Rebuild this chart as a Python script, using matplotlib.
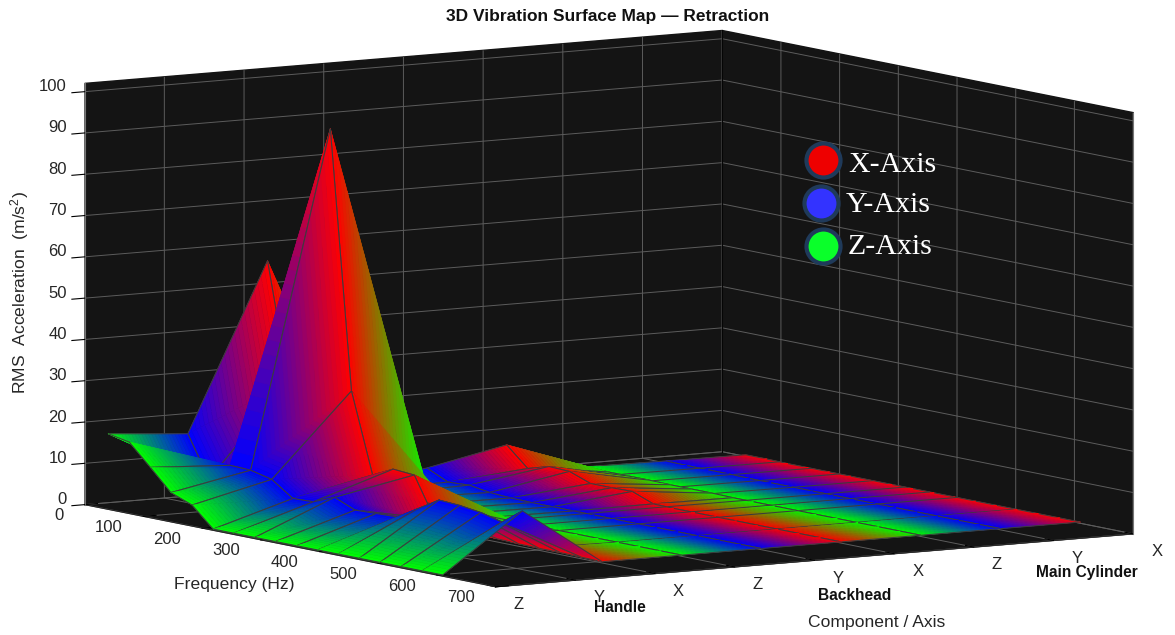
import numpy as np
import matplotlib
matplotlib.use("Agg")
import matplotlib.pyplot as plt
from matplotlib.colors import to_rgba
from matplotlib.lines import Line2D
from mpl_toolkits.mplot3d.art3d import Poly3DCollection, Line3DCollection

plt.rcParams['font.family'] = ['Liberation Sans', 'DejaVu Sans']
plt.rcParams['mathtext.default'] = 'regular'
plt.rcParams['grid.color'] = '#5c5c5c'
plt.rcParams['grid.linewidth'] = 0.7

# frequency rows of the surface (Hz)
freqs = [40, 76, 112, 147, 183, 219, 254, 290, 325, 361, 397, 432, 468, 503, 539, 575, 610]
# the mesh is coarser over the flat part of the surface
flat_rows = [98, 152, 200, 257, 312, 354, 400, 500]
comp_labels = ['Z', 'Y', 'X', 'Z', 'Y', 'X', 'Z', 'Y', 'X']
comp_colors = [(0, 1, 0), (0, 0, 1), (1, 0, 0)] * 3
freq_ticks = [0, 100, 200, 300, 400, 500, 600, 700]
rms_ticks = [0, 10, 20, 30, 40, 50, 60, 70, 80, 90, 100]

# RMS acceleration per component/axis, one list per column
handle_z = [18.3, 17.3, 12.2, 7.1, 5.1, 0.3, 0.3, 0.3, 0.3, 0.3, 0.3, 0.3, 0.3, 0.3, 0.3, 0.3, 0.3]
handle_y = [16.7, 6.7, 11.1, 10.9, 9.7, 6.1, 6.3, 8.4, 6.3, 6.5, 6.7, 9.7, 12.8, 12.5, 11.8, 10.5, 14.2]
handle_x = [57, 28.5, 12.2, 92, 29.5, 10.2, 12.6, 12.2, 2.5, 1.5, 1, 0.8, 0.6, 0.5, 0.5, 0.4, 0.3]
backhead_z = [1, 1, 1, 1, 0.5, 0.5, 0.4, 0.4, 0.3, 0.3, 0.3, 0.3, 0.3, 0.3, 0.3, 0.3, 0.3]
backhead_y = [3.6, 1.2, 1.5, 0.7, 0.4, 0.3, 0.3, 0.3, 0.3, 0.3, 0.3, 0.3, 0.3, 0.3, 0.3, 0.3, 0.3]
backhead_x = [7.6, 2.9, 4.4, 4.2, 2.3, 2.3, 2.4, 0.4, 0.3, 0.3, 0.3, 0.3, 0.3, 0.3, 0.3, 0.3, 0.3]
cylinder_z = [0.7, 0.5, 0.5, 0.5, 0.4, 0.4, 0.4, 0.3, 0.3, 0.3, 0.3, 0.3, 0.3, 0.3, 0.3, 0.3, 0.3]
cylinder_y = [0.5, 0.4, 0.4, 0.4, 0.3, 0.3, 0.3, 0.3, 0.3, 0.3, 0.3, 0.3, 0.3, 0.3, 0.3, 0.3, 0.3]
cylinder_x = [0.4, 0.4, 0.3, 0.3, 0.3, 0.3, 0.3, 0.3, 0.3, 0.3, 0.3, 0.3, 0.3, 0.3, 0.3, 0.3, 0.3]

rms = np.array([handle_z, handle_y, handle_x, backhead_z, backhead_y, backhead_x,
                cylinder_z, cylinder_y, cylinder_x])
comps = np.arange(1, len(comp_labels) + 1)
colors = np.array(comp_colors, dtype=float)

W, H = 1175, 635
Z_TOP = 102
fig = plt.figure(figsize=(W / 100, H / 100), dpi=100)
side = 1175
ax = fig.add_axes([5.5 / W, (310.5 - side / 2) / H, side / W, side / H], projection='3d',
                  proj_type='ortho', elev=7.4, azim=-122.8, computed_zorder=False)
ax.set_box_aspect((1, 1, 0.56), zoom=0.9532)
ax.patch.set_alpha(0)

ax.set_xlim(1, 9, view_margin=0)
ax.set_ylim(700, 0, view_margin=0)
ax.set_zlim(0, Z_TOP, view_margin=0)

for axis in (ax.xaxis, ax.yaxis, ax.zaxis):
    axis.set_pane_color(to_rgba('#141414'))
    axis.line.set_color('#262626')
    axis.line.set_linewidth(0.8)
    axis._axinfo['tick']['inward_factor'] = 0
    axis._axinfo['tick']['outward_factor'] = 0.25
    axis._axinfo['tick']['linewidth'] = {True: 0.8, False: 0.5}
    axis._axinfo['tick']['color'] = '#555555'
# z ticks point the other way round
ax.zaxis._axinfo['tick']['inward_factor'] = 0.25
ax.zaxis._axinfo['tick']['outward_factor'] = 0
ax.zaxis.line.set_color('#777777')

ax.set_xticks(comps)
ax.set_xticklabels(comp_labels, ha='left', va='baseline')
ax.set_yticks(freq_ticks)
ax.set_yticklabels([str(v) for v in freq_ticks], ha='right', va='baseline')
ax.set_zticks(rms_ticks)
ax.set_zticklabels([str(v) for v in rms_ticks], ha='right', va='baseline')
ax.tick_params(labelsize=12, labelcolor='#262626')
ax.tick_params(axis='x', pad=11.5)
ax.tick_params(axis='y', pad=6.5)
ax.tick_params(axis='z', pad=-0.5)

# the two box edges the panes do not outline
ax.plot([9, 9], [0, 0], [0, Z_TOP], color='#050505', lw=0.8, zorder=1)
ax.plot([9, 9], [700, 700], [0, Z_TOP], color='#777777', lw=0.8, zorder=1)


def coarse(i, f):
    return i >= 6 or (i >= 2 and f >= 300)


# painted far to near so the mesh lines get hidden properly
n_strips = 24
order = 10
line_col = '#3c3c3c'
line_w = 0.75
last = len(freqs) - 2
for j in range(len(freqs) - 1):
    f0, f1 = freqs[j], freqs[j + 1]
    for i in range(len(comps) - 2, -1, -1):
        c0 = comps[i]
        za, zb = rms[i][j], rms[i + 1][j]
        zd, zc = rms[i][j + 1], rms[i + 1][j + 1]
        far, near, cols = [], [], []
        for k in range(n_strips):
            t0, t1 = k / n_strips, (k + 1) / n_strips
            cols.append(colors[i] + (colors[i + 1] - colors[i]) * (t0 + t1) / 2)
            far.append([(c0 + t0, f0, za + (zb - za) * t0), (c0 + t1, f0, za + (zb - za) * t1),
                        (c0 + t1, f0 + (f1 - f0) * t1, za + (zc - za) * t1),
                        (c0 + t0, f0 + (f1 - f0) * t0, za + (zc - za) * t0)])
            near.append([(c0 + t0, f0 + (f1 - f0) * t0, za + (zc - za) * t0),
                         (c0 + t1, f0 + (f1 - f0) * t1, za + (zc - za) * t1),
                         (c0 + t1, f1, zd + (zc - zd) * t1), (c0 + t0, f1, zd + (zc - zd) * t0)])
        a, b = (c0, f0, za), (c0 + 1, f0, zb)
        c, d = (c0 + 1, f1, zc), (c0, f1, zd)
        far_edges = [[b, c]]
        near_edges = [[d, a]]
        if j == 0 or not coarse(i, f0):
            far_edges.append([a, b])
        if j == last or not coarse(i, f1):
            near_edges.append([c, d])
        for fr in flat_rows:
            if f0 < fr <= f1 and coarse(i, fr):
                near_edges.append([(c0, fr, np.interp(fr, [f0, f1], [za, zd])),
                                   (c0 + 1, fr, np.interp(fr, [f0, f1], [zb, zc]))])
        # far triangle and its edges, then the near one on top
        for polys, edges in ((far, far_edges), (near, near_edges)):
            ax.add_collection3d(Poly3DCollection(polys, facecolors=cols, edgecolors=cols,
                                                 linewidths=0.4, zorder=order), autolim=False)
            ax.add_collection3d(Line3DCollection(edges, colors=line_col, linewidths=line_w,
                                                 zorder=order + 1), autolim=False)
            order += 2

fig.text(608 / W, 1 - 17 / H, '3D Vibration Surface Map \u2014 Retraction', ha='center', va='center',
         fontsize=12.5, fontweight='bold', color='#111111')
fig.text(20 / W, 1 - 293 / H, 'RMS  Acceleration  (m/s$^{2}$)', rotation=90, ha='center', va='center',
         fontsize=12.6, color='#262626')
fig.text(234 / W, 1 - 584 / H, 'Frequency (Hz)', ha='center', va='center', fontsize=12.6, color='#262626')
fig.text(877 / W, 1 - 622 / H, 'Component / Axis', ha='center', va='center', fontsize=12.6, color='#262626')
for name, px, py in [('Handle', 620, 608), ('Backhead', 855, 596), ('Main Cylinder', 1087, 573)]:
    fig.text(px / W, 1 - py / H, name, ha='center', va='center', fontsize=11.2,
             fontweight='bold', color='#111111')

for name, col, cx, cy, tx, ty in [('X-Axis', '#ee0000', 823, 160, 848, 164.5),
                                  ('Y-Axis', '#3333ff', 821, 203, 846, 205.5),
                                  ('Z-Axis', '#0aff2a', 823, 246, 848, 247.5)]:
    fig.add_artist(Line2D([cx / W], [1 - cy / H], marker='o', ms=24.5, mfc=col, mec='#1f3a5a', mew=3,
                          ls='none', transform=fig.transFigure))
    fig.text(tx / W, 1 - ty / H, name, ha='left', va='center', fontsize=21.5, color='white',
             family='Liberation Serif')

fig.savefig('out.png', dpi=100)
